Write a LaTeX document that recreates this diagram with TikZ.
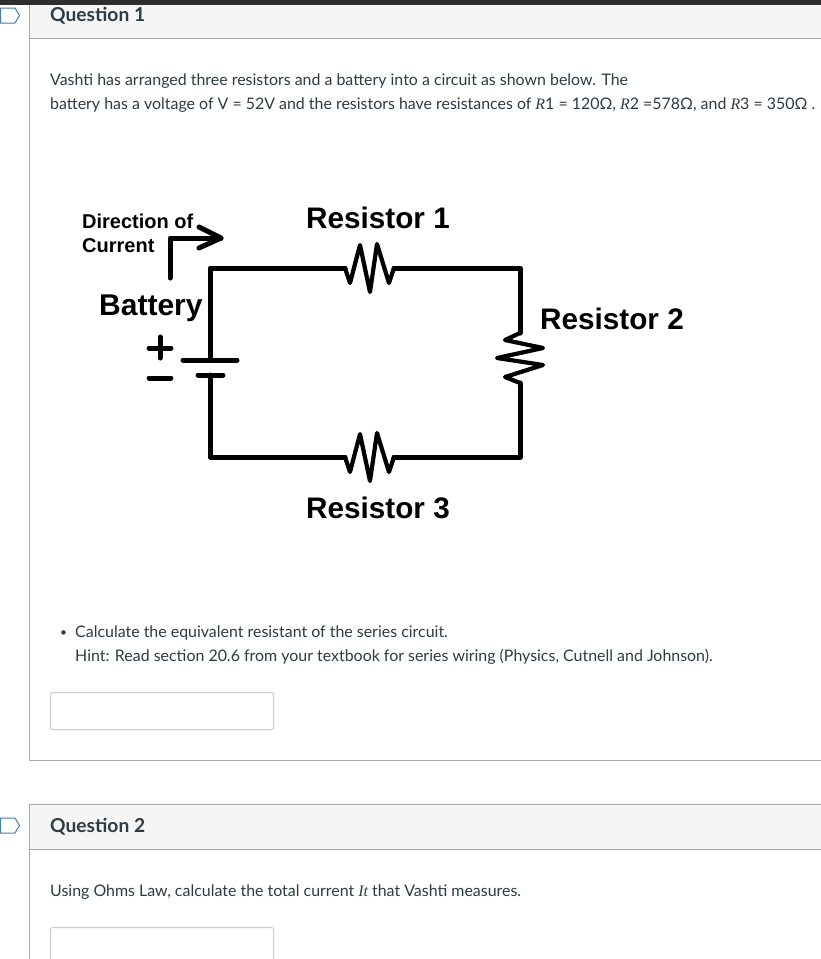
\documentclass[tikz,border=0pt]{standalone}
\usepackage{fontspec}
\setmainfont{Lato}
\newfontfamily\labelfont{Liberation Sans}[BoldFont={Liberation Sans Bold}]
\newfontfamily\varfont{Liberation Serif}
\definecolor{inktext}{HTML}{2D3B45}
\definecolor{rulegray}{HTML}{A9A9A9}
\definecolor{headgray}{HTML}{F5F5F5}
\definecolor{tagblue}{HTML}{4B7D9E}
\definecolor{boxgray}{HTML}{C7CDD1}
\newcommand{\rvar}[1]{{\varfont\itshape #1}}
\tikzset{
  bodytext/.style={anchor=base west,inner sep=0pt,text=inktext,font=\fontsize{15.93}{18}\selectfont},
  headtext/.style={anchor=base west,inner sep=0pt,text=inktext,font=\fontsize{19.2}{20}\selectfont\bfseries},
  wire/.style={line width=5pt,line cap=round,line join=round},
  zigwire/.style={line width=4.2pt,line cap=round,line join=round},
  partlabel/.style={anchor=base west,inner sep=0pt,font=\fontsize{29.7}{32}\labelfont\bfseries},
  smalllabel/.style={anchor=base west,inner sep=0pt,font=\fontsize{20}{22}\labelfont\bfseries},
  answerbox/.style={draw=boxgray,line width=1pt,rounded corners=2pt,fill=white},
  qtag/.style={draw=tagblue,line width=1pt,fill=white}
}
\begin{document}
\begin{tikzpicture}[x=1pt,y=-1pt]
\useasboundingbox[fill=white] (0,0) rectangle (821,959);
% top bar and first question
\fill[black!82] (0,0) rectangle (821,5);
\fill[headgray] (30,5) rectangle (821,38);
\draw[rulegray,line width=1pt] (821,38.5) -- (29.5,38.5);
\draw[rulegray,line width=1pt] (29.5,5) -- (29.5,760.5) -- (821,760.5);
\draw[qtag] (0.5,8) -- (15,8) -- (19.5,15.5) -- (15,23) -- (0.5,23) -- cycle;
\node[headtext] (q1) at (50,21) {Question 1};
\node[bodytext] (line1) at (50,85) {Vashti has arranged three resistors and a battery into a circuit as shown below. The};
\node[bodytext] (line2) at (50,109) {battery has a voltage of V = 52V and the resistors have resistances of \rvar{R}1 = 120Ω, \rvar{R}2 =578Ω, and \rvar{R}3 = 350Ω .};

% circuit
\coordinate (tl) at (210,268);
\coordinate (tr) at (520,268);
\coordinate (br) at (520,457);
\coordinate (bl) at (210,457);
\coordinate (pluspos) at (210,360);
\coordinate (minuspos) at (210,375);
\coordinate (r1left) at (345,268);
\coordinate (r1right) at (394,268);
\coordinate (r2top) at (520,333);
\coordinate (r2bot) at (520,383);
\coordinate (r3right) at (394,457);
\coordinate (r3left) at (345,457);
\draw[wire] (pluspos) -- (tl) -- (r1left);
\draw[wire] (r1right) -- (tr) -- (r2top);
\draw[wire] (r2bot) -- (br) -- (r3right);
\draw[wire] (r3left) -- (bl) -- (minuspos);
\draw[zigwire] (r1left) -- (350,283) -- (360,245) -- (370,292) -- (377,244) -- (389,283) -- (r1right);
\draw[zigwire] (r2top) -- (505,340) -- (543,348) -- (497,358) -- (543,365) -- (505,377) -- (r2bot);
\draw[zigwire] (r3right) -- (389,472) -- (377,433) -- (370,481) -- (360,434) -- (350,472) -- (r3left);
\draw[wire] (183,360) -- (237,360);
\draw[wire] (198,375) -- (223,375);
% signs
\draw[wire] (149,348) -- (171,348);
\draw[wire] (160,337) -- (160,358);
\draw[wire] (149,378) -- (171,378);
% current arrow
\coordinate (arrowstart) at (170,278);
\coordinate (arrowtip) at (221,238);
\draw[wire] (arrowstart) -- (170,238) -- (arrowtip);
\draw[wire] (199,227) -- (arrowtip) -- (199,248);

\node[smalllabel] (dirlabel) at (82,228) {Direction of};
\node[smalllabel] (curlabel) at (82,252) {Current};
\node[partlabel,font=\fontsize{30}{32}\labelfont\bfseries] (batlabel) at (99,315) {Battery};
\node[partlabel] (r1label) at (306,228) {Resistor 1};
\node[partlabel] (r2label) at (540,329) {Resistor 2};
\node[partlabel] (r3label) at (306,518) {Resistor 3};

\node[bodytext,font=\fontsize{12}{14}\selectfont] (bullet) at (60,636) {•};
\node[bodytext] (line3) at (75,637) {Calculate the equivalent resistant of the series circuit.};
\node[bodytext] (line4) at (75,661) {Hint: Read section 20.6 from your textbook for series wiring (Physics, Cutnell and Johnson).};
\draw[answerbox] (50.5,692.5) rectangle (273.5,729.5);

% second question
\fill[headgray] (30,805) rectangle (821,849);
\draw[rulegray,line width=1pt] (821,804.5) -- (29.5,804.5) -- (29.5,960);
\draw[rulegray,line width=1pt] (29.5,849.5) -- (821,849.5);
\draw[qtag] (0.5,818) -- (15,818) -- (19.5,825.5) -- (15,833) -- (0.5,833) -- cycle;
\node[headtext] (q2) at (50,832) {Question 2};
\node[bodytext] (line5) at (50,896) {Using Ohms Law, calculate the total current \rvar{It} that Vashti measures.};
\draw[answerbox] (50.5,965) -- (50.5,927.5) -- (273.5,927.5) -- (273.5,965);
\end{tikzpicture}
\end{document}
